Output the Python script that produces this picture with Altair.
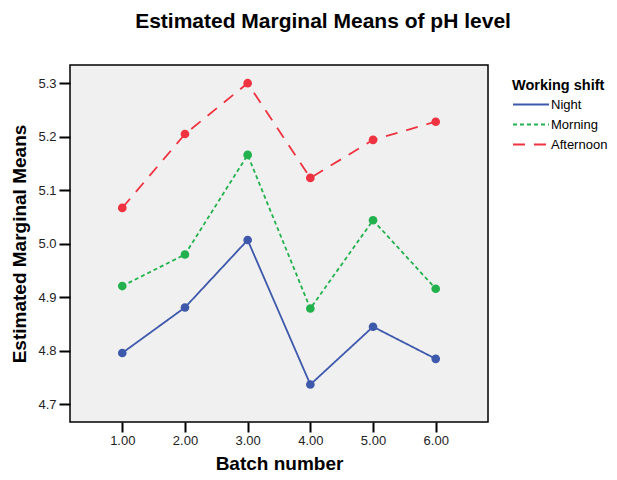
import altair as alt
import pandas as pd

batches = [1, 2, 3, 4, 5, 6]
night = [4.796, 4.881, 5.007, 4.737, 4.845, 4.785]
morning = [4.921, 4.980, 5.166, 4.879, 5.044, 4.916]
afternoon = [5.067, 5.205, 5.300, 5.123, 5.194, 5.228]
shifts = ["Night", "Morning", "Afternoon"]
colors = ["#3e58ac", "#22b14c", "#ef3340"]
dashes = [[1, 0], [4, 3], [12, 9]]
y_ticks = [4.7, 4.8, 4.9, 5.0, 5.1, 5.2, 5.3]

rows = []
for s, vals in zip(shifts, [night, morning, afternoon]):
    for b, v in zip(batches, vals):
        rows.append({"Batch": b, "Mean": v, "Shift": s})
df = pd.DataFrame(rows)

FONT = "Liberation Sans"

x = alt.X(
    "Batch:Q",
    scale=alt.Scale(domain=[0.166, 6.834], nice=False, zero=False),
    axis=alt.Axis(
        values=batches, format=".2f", title="Batch number", grid=False,
        domain=False, tickColor="black", tickWidth=2, tickSize=10,
        labelFont=FONT, labelFontSize=13, labelColor="#222222", labelPadding=2,
        titleFont=FONT, titleFontSize=19, titleFontWeight="bold",
        titleColor="black", titlePadding=7,
    ),
)
y = alt.Y(
    "Mean:Q",
    scale=alt.Scale(domain=[4.667, 5.334], nice=False, zero=False),
    axis=alt.Axis(
        values=y_ticks, format=".1f", title="Estimated Marginal Means",
        grid=False, domain=False, tickColor="black", tickWidth=2, tickSize=11,
        labelFont=FONT, labelFontSize=13, labelColor="#222222", labelPadding=3,
        titleFont=FONT, titleFontSize=19, titleFontWeight="bold",
        titleColor="black", titlePadding=8,
    ),
)

legend = alt.Legend(
    title="Working shift", orient="none", legendX=442, legendY=14,
    symbolType="M-1,0H2.6", symbolSize=400, symbolStrokeWidth=2,
    titleFont=FONT, titleFontSize=14.5, titleFontWeight="bold",
    titleColor="black", labelFont=FONT, labelFontSize=13,
    labelColor="black", labelOffset=17, rowPadding=2, titlePadding=0,
)

color_scale = alt.Scale(domain=shifts, range=colors)

lines = alt.Chart(df).mark_line(strokeWidth=1.8).encode(
    x=x,
    y=y,
    color=alt.Color("Shift:N", scale=color_scale, legend=legend),
    strokeDash=alt.StrokeDash(
        "Shift:N", scale=alt.Scale(domain=shifts, range=dashes), legend=legend
    ),
)

points = alt.Chart(df).mark_point(filled=True, size=75, opacity=1).encode(
    x=x,
    y=y,
    color=alt.Color("Shift:N", scale=color_scale, legend=None),
)

chart = alt.layer(lines, points).properties(
    width=418,
    height=357,
    title=alt.Title(
        "Estimated Marginal Means of pH level", font=FONT, fontSize=21,
        fontWeight="bold", color="black", anchor="middle", dx=44, offset=33,
    ),
    autosize=alt.AutoSizeParams(type="none"),
    padding={"left": 62, "top": 57, "right": 121, "bottom": 50},
).configure(
    background="white"
).configure_view(
    fill="#f0f0f0", stroke="black", strokeWidth=1.5
)

chart.save("out.html", embed_options={"renderer": "svg", "actions": False})
